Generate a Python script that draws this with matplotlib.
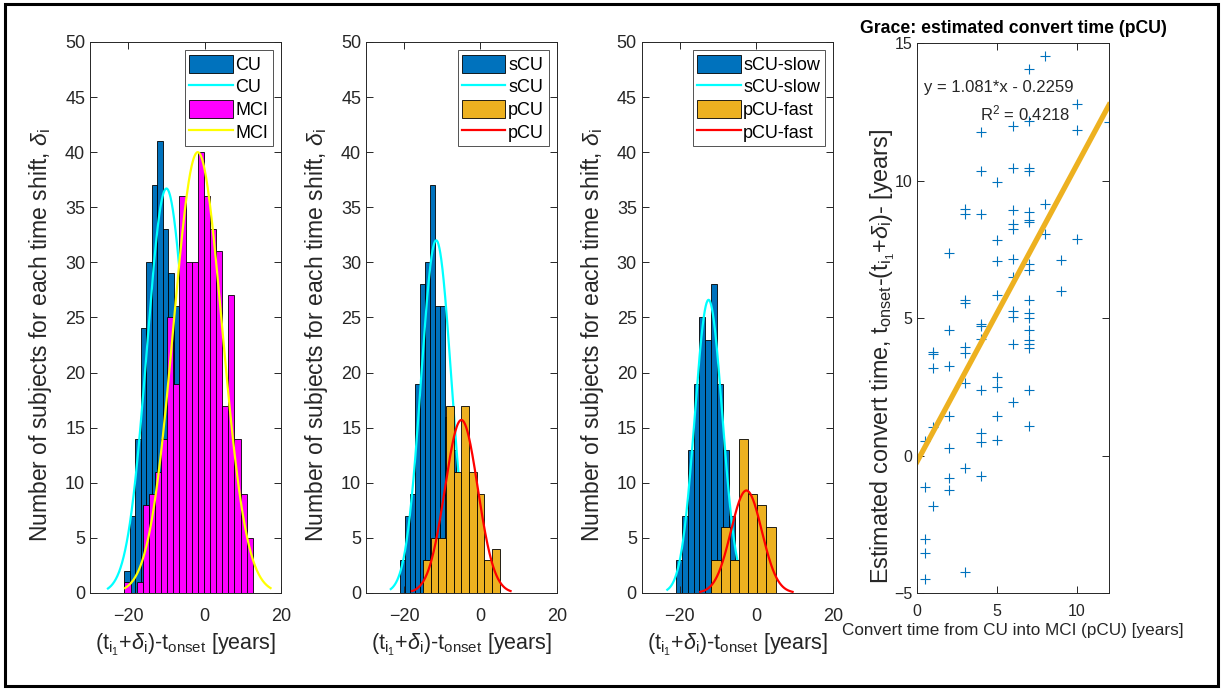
import numpy as np
import matplotlib
matplotlib.use('Agg')
import matplotlib.pyplot as plt
from matplotlib.patches import Rectangle, Patch
from matplotlib.lines import Line2D

plt.rcParams['font.family'] = ['Liberation Sans', 'DejaVu Sans']
plt.rcParams['mathtext.fontset'] = 'custom'
plt.rcParams['mathtext.rm'] = 'Liberation Sans'
plt.rcParams['mathtext.it'] = 'Liberation Sans:italic'
plt.rcParams['mathtext.default'] = 'regular'

# ---- panel 1: CU vs MCI ----
cu_start, cu_width = -21.0, 1.44
cu_counts = [2, 7, 14, 24, 30, 37, 41, 33, 29, 26, 19, 12, 8, 4, 2, 1]
cu_fit = [-10.0, 5.1, 36.7]          # mean, sd, peak
mci_start, mci_width = -21.0, 1.6
mci_counts = [1, 0, 1, 8, 9, 11, 14, 25, 19, 36, 30, 30, 40, 36, 33, 31, 17, 27, 14, 9, 5]
mci_fit = [-1.8, 6.35, 40.0]

# ---- panel 2: sCU vs pCU ----
scu_start, scu_width = -21.05, 1.32
scu_counts = [3, 7, 9, 19, 28, 30, 37, 26, 26, 16, 13, 8, 4, 2]
scu_fit = [-11.6, 3.97, 32.0]
pcu_start, pcu_width = -15.0, 2.0
pcu_counts = [3, 5, 5, 17, 11, 17, 11, 9, 3, 4]
pcu_fit = [-5.0, 4.3, 15.7]

# ---- panel 3: sCU-slow vs pCU-fast ----
slow_start, slow_width = -21.05, 1.544
slow_counts = [3, 7, 13, 19, 25, 23, 28, 19, 13, 7, 3]
slow_fit = [-12.5, 3.6, 26.6]
fast_start, fast_width = -11.76, 2.4
fast_counts = [3, 6, 3, 14, 9, 8, 6]
fast_fit = [-2.6, 4.03, 9.3]

# ---- panel 4: scatter ----
conv_x = [8.0, 7.0, 10.0, 12.0, 6.0, 7.0, 4.0, 10.0, 4.0, 6.0, 7.0, 7.0, 5.0, 8.0,
          3.0, 3.0, 4.0, 6.0, 7.0, 7.0, 7.0, 6.0, 6.0, 8.0, 10.0, 5.0, 2.0, 5.0,
          6.0, 9.0, 7.0, 7.0, 6.0, 5.0, 9.0, 3.0, 3.0, 7.0, 6.0, 6.0, 7.0, 7.0,
          2.0, 4.0, 4.0, 7.0, 4.0, 7.0, 7.0, 6.0, 7.0, 1.0, 1.0, 3.0, 3.0, 1.0,
          2.0, 5.0, 5.0, 3.0, 4.0, 7.0, 6.0, 2.0, 5.0, 1.0, 7.0, 4.0, 4.0, 5.0,
          0.5, 2.0, 3.0, 4.0, 2.0, 0.5, 2.0, 1.0, 0.5, 0.5, 3.0, 0.5]
est_y = [14.52, 14.04, 12.79, 12.12, 12.0, 12.16, 11.78, 11.85, 10.34, 10.46, 10.44, 10.34,
         9.95, 9.15, 8.98, 8.8, 8.8, 8.92, 8.85, 8.58, 8.48, 8.42, 8.22, 8.04, 7.88, 7.85,
         7.37, 7.09, 7.15, 7.1, 6.95, 6.76, 6.5, 5.82, 5.98, 5.64, 5.55, 5.67, 5.25, 5.03,
         5.19, 5.0, 4.55, 4.79, 4.7, 4.58, 4.24, 4.19, 4.04, 4.07, 3.92, 3.76, 3.7, 3.94,
         3.73, 3.19, 3.25, 2.85, 2.48, 2.62, 2.4, 2.37, 1.95, 1.43, 1.43, 1.04, 1.09, 0.82,
         0.5, 0.58, 0.52, 0.28, -0.45, -0.73, -0.81, -1.14, -1.26, -1.84, -3.05, -3.54,
         -4.24, -4.48]
slope, intercept, r2 = 1.081, -0.2259, 0.4218

BLUE = '#0072BD'
ORANGE = '#EDB120'
AXC = '#262626'

fig = plt.figure(figsize=(12.23, 6.9), dpi=100)
fig.patches.append(Rectangle((0.004, 0.006), 0.992, 0.988, transform=fig.transFigure,
                             fill=False, edgecolor='black', linewidth=2.2))


def style(ax, fs=13, xpad=11):
    for s in ax.spines.values():
        s.set_color(AXC)
        s.set_linewidth(0.7)
        s.set_zorder(10)
    ax.tick_params(direction='in', top=True, right=True, length=5, width=0.7,
                   colors=AXC, labelsize=fs, labelcolor=AXC)
    ax.tick_params(axis='x', pad=xpad)


def fit_curve(ax, fit, color, z):
    mu, sd, peak = fit
    xs = np.linspace(mu - 3 * sd, mu + 3 * sd, 300)
    ax.plot(xs, peak * np.exp(-0.5 * ((xs - mu) / sd) ** 2), color=color, lw=1.6, zorder=z)


def hist_panel(rect, a, b, names):
    ax = fig.add_axes(rect)
    (s1, w1, c1, f1), (s2, w2, c2, f2) = a, b
    e1 = s1 + w1 * np.arange(len(c1))
    e2 = s2 + w2 * np.arange(len(c2))
    ax.bar(e1, c1, width=w1, align='edge', color=names[1], edgecolor='black',
           linewidth=0.6, zorder=1)
    fit_curve(ax, f1, names[2], 2)
    ax.bar(e2, c2, width=w2, align='edge', color=names[4], edgecolor='black',
           linewidth=0.6, zorder=3)
    fit_curve(ax, f2, names[5], 4)
    ax.set_xlim(-30, 20)
    ax.set_ylim(0, 50)
    ax.set_xticks([-20, 0, 20])
    ax.set_yticks(range(0, 51, 5))
    style(ax)
    ax.set_ylabel(r'Number of subjects for each time shift, $\mathit{\delta}_i$',
                  fontsize=16.5, color=AXC)
    ax.yaxis.set_label_coords(-0.188, 0.468)
    ax.set_xlabel(r'(t$_{i_1}$+$\mathit{\delta}_i$)-t$_{onset}$ [years]',
                  fontsize=15.5, color=AXC, labelpad=5)
    handles = [Patch(facecolor=names[1], edgecolor='black', linewidth=0.6),
               Line2D([], [], color=names[2], lw=1.6),
               Patch(facecolor=names[4], edgecolor='black', linewidth=0.6),
               Line2D([], [], color=names[5], lw=1.6)]
    leg = ax.legend(handles, [names[0], names[0], names[3], names[3]], loc='upper right',
                    fontsize=13, frameon=True, fancybox=False, edgecolor=AXC,
                    handlelength=2.4, handleheight=1.15, handletextpad=0.15,
                    labelspacing=0.2, borderpad=0.25, borderaxespad=0.45)
    leg.get_frame().set_linewidth(0.7)
    leg.set_zorder(20)
    return ax


hist_panel([0.0736, 0.1406, 0.1562, 0.7986],
           (cu_start, cu_width, cu_counts, cu_fit),
           (mci_start, mci_width, mci_counts, mci_fit),
           ['CU', BLUE, 'cyan', 'MCI', 'magenta', 'yellow'])
hist_panel([0.2993, 0.1406, 0.1559, 0.7986],
           (scu_start, scu_width, scu_counts, scu_fit),
           (pcu_start, pcu_width, pcu_counts, pcu_fit),
           ['sCU', BLUE, 'cyan', 'pCU', ORANGE, 'red'])
hist_panel([0.5247, 0.1406, 0.1562, 0.7986],
           (slow_start, slow_width, slow_counts, slow_fit),
           (fast_start, fast_width, fast_counts, fast_fit),
           ['sCU-slow', BLUE, 'cyan', 'pCU-fast', ORANGE, 'red'])

ax4 = fig.add_axes([0.7498, 0.1406, 0.157, 0.797])
ax4.plot(conv_x, est_y, '+', color=BLUE, ms=7.5, mew=0.8)
lx = np.array([0, 12])
ax4.plot(lx, slope * lx + intercept, color=ORANGE, lw=3.8)
ax4.text(9.8, 13.4, 'y = %.3f*x - %.4f' % (slope, -intercept), ha='right', va='center',
         fontsize=12, color=AXC)
ax4.text(9.6, 12.45, 'R$^2$ = %.4f' % r2, ha='right', va='center', fontsize=12, color=AXC)
ax4.set_xlim(0, 12)
ax4.set_ylim(-5, 15)
ax4.set_xticks([0, 5, 10])
ax4.set_yticks([-5, 0, 5, 10, 15])
style(ax4, fs=11.5, xpad=8)
ax4.set_title('Grace: estimated convert time (pCU)', fontweight='bold', fontsize=12.7, pad=7)
ax4.set_xlabel('Convert time from CU into MCI (pCU) [years]', fontsize=12.3, color=AXC,
               labelpad=3)
ax4.set_ylabel(r'Estimated convert time, t$_{onset}$-(t$_{i_1}$+$\mathit{\delta}_i$)- [years]',
               fontsize=16.8, color=AXC)
ax4.yaxis.set_label_coords(-0.106, 0.43)

fig.savefig('out.png', dpi=100)
